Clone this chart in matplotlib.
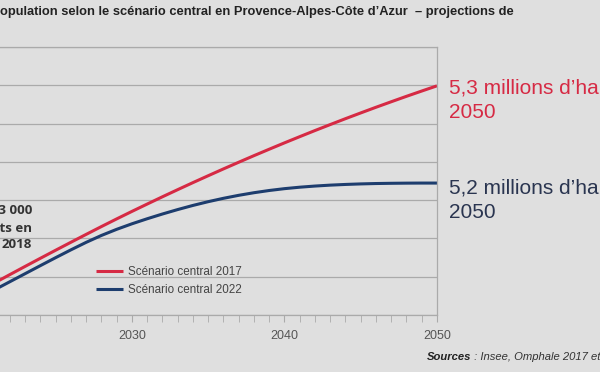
import matplotlib.pyplot as plt
import matplotlib.ticker as mt

# populations (millions)
years = list(range(2021, 2051))
pop_2017 = [5.0420, 5.0528, 5.0635, 5.0741, 5.0846, 5.0950, 5.1053, 5.1155, 5.1255, 5.1353,
            5.1449, 5.1544, 5.1637, 5.1729, 5.1819, 5.1908, 5.1995, 5.2081, 5.2165, 5.2248,
            5.2329, 5.2409, 5.2487, 5.2564, 5.2639, 5.2713, 5.2785, 5.2856, 5.2925, 5.2993]
pop_2022 = [5.0330, 5.0435, 5.0540, 5.0645, 5.0749, 5.0851, 5.0949, 5.1039, 5.1119, 5.1191,
            5.1257, 5.1319, 5.1377, 5.1431, 5.1480, 5.1524, 5.1563, 5.1597, 5.1626, 5.1650,
            5.1669, 5.1684, 5.1696, 5.1705, 5.1712, 5.1717, 5.1720, 5.1722, 5.1723, 5.1723]
labels = ['Scénario central 2017', 'Scénario central 2022']
xticks = [2030, 2040, 2050]

RED = '#d62a44'
BLUE = '#1d3d6e'
GRID = '#aaaaaa'
BG = '#dfdfdf'

W, H = 600, 372
fig = plt.figure(figsize=(6, 3.72), dpi=100, facecolor=BG)
ax = fig.add_axes([0, 1 - 315 / H, 437 / W, (315 - 47) / H], facecolor=BG)

l1, = ax.plot(years, pop_2017, color=RED, lw=2.2, solid_capstyle='butt')
l2, = ax.plot(years, pop_2022, color=BLUE, lw=2.2, solid_capstyle='butt')

ax.set_xlim(2021.35, 2050)
ax.set_ylim(5.0, 5.35)
ax.yaxis.set_major_locator(mt.MultipleLocator(0.05))
ax.yaxis.grid(True, color=GRID, lw=0.9)
ax.set_axisbelow(True)
ax.tick_params(axis='y', length=0, labelleft=False)

ax.set_xticks(xticks)
ax.xaxis.set_minor_locator(mt.MultipleLocator(1))
ax.tick_params(axis='x', which='both', direction='out', length=5, color=GRID,
               labelsize=9, labelcolor='#555555', pad=6)
for lab in ax.get_xticklabels():
    lab.set_family('Liberation Sans')

ax.spines['left'].set_visible(False)
for s in ['top', 'right', 'bottom']:
    ax.spines[s].set_color(GRID)
    ax.spines[s].set_linewidth(0.9)

ax.legend([l1, l2], labels, loc='center left',
          bbox_to_anchor=(96 / W, 1 - 281 / H), bbox_transform=fig.transFigure,
          frameon=False, borderpad=0, borderaxespad=0, handlelength=2.3,
          handletextpad=0.4, labelspacing=0.5,
          prop={'family': 'Liberation Sans', 'size': 8.4}, labelcolor='#444444')

fig.text(0.0, 1 - 12 / H,
         "opulation selon le scénario central en Provence-Alpes-Côte d\u2019Azur  \u2013 projections de",
         ha='left', va='center', fontsize=9.3, fontweight='bold',
         family='Liberation Sans', color='#222222')

fig.text(32 / W, 1 - 228 / H, "5 053 000\nhabitants en\n2018", ha='right', va='center',
         fontsize=9.5, fontweight='bold', family='Open Sans', color='#333333',
         linespacing=1.4)

fig.text(449 / W, 1 - 100 / H, "5,3 millions d\u2019habitants en\n2050", ha='left', va='center',
         fontsize=15, family='Liberation Sans', color=RED, linespacing=1.35)
fig.text(449 / W, 1 - 200.5 / H, "5,2 millions d\u2019habitants en\n2050", ha='left', va='center',
         fontsize=15, family='Liberation Sans', color='#2a3550', linespacing=1.35)

src = fig.text(427 / W, 1 - 357 / H, "Sources", ha='left', va='center',
               fontsize=8.1, fontweight='bold', fontstyle='italic',
               family='Liberation Sans', color='#222222')
plt.annotate(" : Insee, Omphale 2017 et 2022", xy=(1, 0.5), xycoords=src, va='center',
             fontsize=8.1, fontstyle='italic', family='Liberation Sans', color='#333333',
             annotation_clip=False)

fig.savefig('out.png', dpi=100, facecolor=BG)
